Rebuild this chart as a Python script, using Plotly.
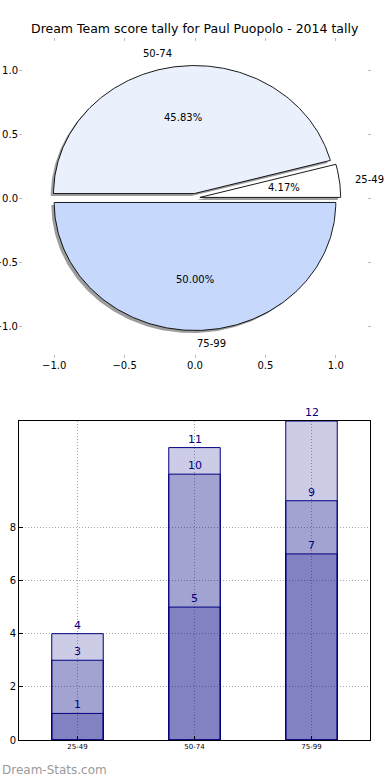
import numpy as np
import plotly.graph_objects as go

# ---------------- data ----------------
title_text = "Dream Team score tally for Paul Puopolo - 2014 tally"
categories = ["25-49", "50-74", "75-99"]
pie_values = [1, 11, 12]
pie_colors = ["#FFFFFF", "#EAF1FD", "#C6D9FD"]
pie_explode = [0.035, 0.035, 0.035]
tier_low = [1, 5, 7]
tier_mid = [3, 10, 9]
tier_high = [4, 11, 12]
pie_ticks = [-1.0, -0.5, 0.0, 0.5, 1.0]
bar_yticks = [0, 2, 4, 6, 8]

W, H = 390, 780
FONT = "DejaVu Sans"

def px_x(a, b):
    return [a / W, b / W]

def px_y(top, bottom):
    return [1 - bottom / H, 1 - top / H]

fig = go.Figure()

# ---------------- pie (matplotlib style, drawn on cartesian axes) ----------------
total = float(sum(pie_values))
fracs = [v / total for v in pie_values]
starts = np.concatenate([[0.0], np.cumsum(fracs)[:-1]]) * 360.0
ends = np.cumsum(fracs) * 360.0

wedges = []
for i, (v, t1, t2) in enumerate(zip(pie_values, starts, ends)):
    mid = np.deg2rad((t1 + t2) / 2)
    cx = pie_explode[i] * np.cos(mid)
    cy = pie_explode[i] * np.sin(mid)
    th = np.deg2rad(np.linspace(t1, t2, 200))
    xs = np.concatenate([[cx], cx + np.cos(th), [cx]])
    ys = np.concatenate([[cy], cy + np.sin(th), [cy]])
    wedges.append((xs, ys, cx, cy, mid))

# shadows
for i, (xs, ys, cx, cy, mid) in enumerate(wedges):
    fig.add_trace(go.Scatter(
        x=xs - 0.02, y=ys - 0.02, mode="lines", fill="toself",
        fillcolor="rgba(60,60,62,0.5)", line=dict(color="rgba(60,60,62,0.0)", width=0),
        hoverinfo="skip", showlegend=False, xaxis="x", yaxis="y"))
# wedges
for i, (xs, ys, cx, cy, mid) in enumerate(wedges):
    fig.add_trace(go.Scatter(
        x=xs, y=ys, mode="lines", fill="toself",
        fillcolor=pie_colors[i], line=dict(color="black", width=0.9),
        hoverinfo="skip", showlegend=False, xaxis="x", yaxis="y"))

annotations = []
for i, (xs, ys, cx, cy, mid) in enumerate(wedges):
    lx = cx + 1.1 * np.cos(mid)
    ly = cy + 1.1 * np.sin(mid)
    align = "left" if lx > -0.01 else "right"
    annotations.append(dict(
        x=lx, y=ly, xref="x", yref="y", text=categories[i], showarrow=False,
        xanchor=align, yanchor="middle", font=dict(family=FONT, size=10, color="black")))
    px_ = cx + 0.6 * np.cos(mid)
    py_ = cy + 0.6 * np.sin(mid)
    annotations.append(dict(
        x=px_, y=py_, xref="x", yref="y", text="%.2f%%" % (100 * fracs[i]), showarrow=False,
        xanchor="center", yanchor="middle", font=dict(family=FONT, size=10, color="black")))

# ---------------- overlaid bars ----------------
xpos = list(range(len(categories)))
for vals in [tier_high, tier_mid, tier_low]:
    fig.add_trace(go.Bar(
        x=xpos, y=vals, width=0.44,
        marker=dict(color="rgba(0,0,128,0.2)", line=dict(color="navy", width=1)),
        hoverinfo="skip", showlegend=False, xaxis="x2", yaxis="y2"))
    for xi, v in zip(xpos, vals):
        annotations.append(dict(
            x=xi, y=v, xref="x2", yref="y2", text=str(v), showarrow=False,
            xanchor="center", yanchor="bottom", yshift=0,
            font=dict(family=FONT, size=11, color="navy")))

# title + watermark
annotations.append(dict(
    x=0.5, y=1 - 29 / H, xref="paper", yref="paper", text=title_text, showarrow=False,
    xanchor="center", yanchor="middle", font=dict(family=FONT, size=12.5, color="black")))
annotations.append(dict(
    x=0, y=1 - 770 / H, xref="paper", yref="paper", text="Dream-Stats.com", showarrow=False,
    xanchor="left", yanchor="middle", font=dict(family=FONT, size=12, color="#9a9a9a")))

pie_axis_common = dict(
    showgrid=False, zeroline=False, showline=False, ticks="inside", ticklen=3,
    tickcolor="#bbbbbb", tickwidth=1, mirror="ticks", automargin=False,
    tickvals=pie_ticks, ticktext=["\u22121.0", "\u22120.5", "0.0", "0.5", "1.0"],
    tickfont=dict(family=FONT, size=10, color="black"), range=[-1.25, 1.25],
    fixedrange=True)

grid_style = dict(showgrid=True, gridcolor="#a8a8a8", griddash="1px,2px", gridwidth=1)

fig.update_layout(
    width=W, height=H, margin=dict(l=0, r=0, t=0, b=0),
    paper_bgcolor="white", plot_bgcolor="white", template="none",
    barmode="overlay", bargap=0, showlegend=False,
    annotations=annotations,
    xaxis=dict(domain=px_x(19, 371), anchor="y", **pie_axis_common),
    yaxis=dict(domain=px_y(38, 358), anchor="x", **pie_axis_common),
    xaxis2=dict(
        domain=px_x(19, 370), anchor="y2", range=[-0.5, 2.5],
        tickvals=xpos, ticktext=categories, zeroline=False, showline=True,
        linecolor="black", linewidth=1, mirror=True, ticks="inside", ticklen=4,
        tickcolor="black", tickfont=dict(family=FONT, size=7, color="black"),
        automargin=False, fixedrange=True, **grid_style),
    yaxis2=dict(
        domain=px_y(421, 740), anchor="x2", range=[0, 12],
        tickvals=bar_yticks, zeroline=False, showline=True, linecolor="black",
        linewidth=1, mirror=True, ticks="inside", ticklen=4, tickcolor="black",
        tickfont=dict(family=FONT, size=10, color="black"), automargin=False,
        fixedrange=True, **grid_style),
)

fig.write_html(
    "out.html",
    config={"displayModeBar": False, "staticPlot": True},
    post_script="document.body.style.margin='0';document.body.style.overflow='hidden';",
)
